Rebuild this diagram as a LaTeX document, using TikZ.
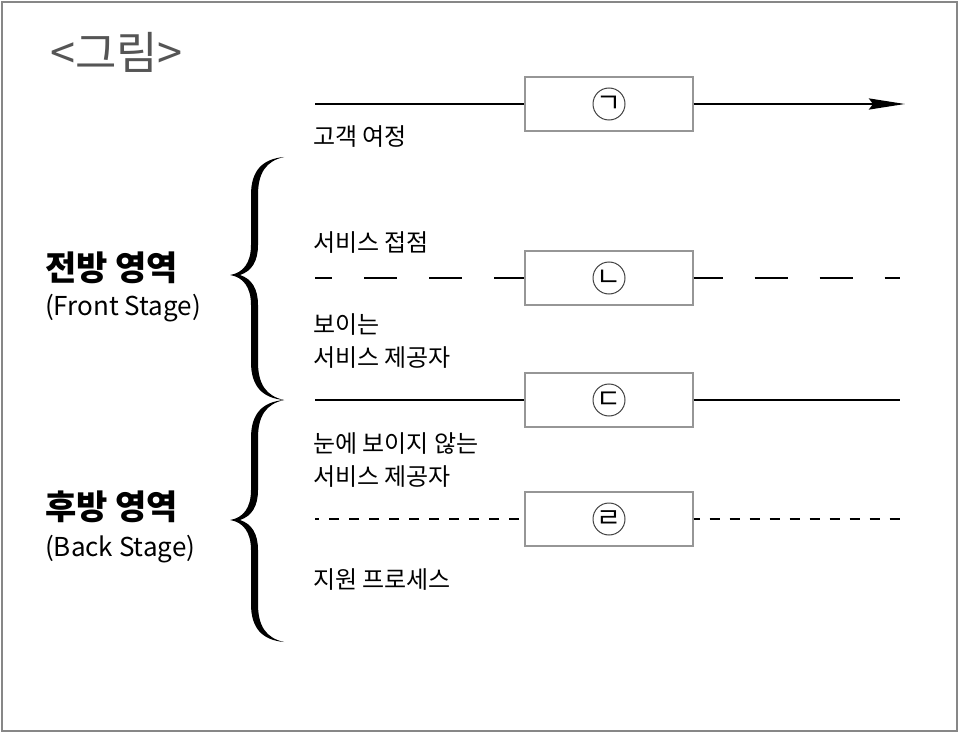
\documentclass[tikz,border=0pt]{standalone}
\usepackage{fontspec}
\setmainfont{Noto Sans CJK KR}
\usetikzlibrary{arrows.meta, positioning}
\definecolor{frameGray}{RGB}{135,135,135}
\definecolor{boxGray}{RGB}{150,150,150}
\definecolor{titleGray}{RGB}{85,85,85}

% curly brace, filled; args: top y, tip y, bottom y
\newcommand{\stagebrace}[3]{%
  \fill[black] (284,#1) .. controls (262,#1+2) and (251,#1+14) .. (251,#1+38)
    -- (251,#2-30) .. controls (251,#2-12) and (243,#2-2) .. (230,#2)
    .. controls (243,#2+2) and (251,#2+12) .. (251,#2+30)
    -- (251,#3-38) .. controls (251,#3-14) and (262,#3-2) .. (284,#3)
    .. controls (266,#3-4) and (258,#3-16) .. (258,#3-38)
    -- (258,#2+30) .. controls (258,#2+14) and (252,#2+4) .. (240,#2)
    .. controls (252,#2-4) and (258,#2-14) .. (258,#2-30)
    -- (258,#1+38) .. controls (258,#1+16) and (266,#1+4) .. (284,#1) -- cycle;}

\begin{document}
\begin{tikzpicture}[x=1pt, y=-1pt,
    stage/.style={line width=2.6pt, black},
    touchbox/.style={draw=boxGray, line width=1.3pt, minimum width=168pt, minimum height=54pt, inner sep=0pt},
    ring/.style={circle, draw=black!75, line width=1pt, minimum size=32pt, inner sep=0pt},
    jamo/.style={inner sep=0pt, font=\fontsize{27}{27}\selectfont},
    lbl/.style={anchor=west, inner sep=0pt, align=left, font=\fontsize{24}{33}\selectfont},
    area/.style={anchor=west, inner sep=0pt, font=\fontsize{34}{34}\selectfont\bfseries},
    areaen/.style={anchor=west, inner sep=0pt, font=\fontsize{26}{26}\selectfont}]
    \useasboundingbox (0,0) rectangle (959,733);
    \draw[frameGray, line width=2pt] (2,2) rectangle (957,731);

    \node[anchor=west, inner sep=0pt, titleGray, font=\fontsize{45}{45}\selectfont] (title) at (50,52) {<그림>};

    % boxes on the four lines
    \node[touchbox] (b1) at (609,104) {};
    \node[touchbox] (b2) at (609,278) {};
    \node[touchbox] (b3) at (609,400) {};
    \node[touchbox] (b4) at (609,519) {};
    \node[ring] (c1) at (b1.center) {};
    \node[ring] (c2) at (b2.center) {};
    \node[ring] (c3) at (b3.center) {};
    \node[ring] (c4) at (b4.center) {};
    \node[jamo] (t1) at (c1) {ㄱ};
    \node[jamo] (t2) at (c2) {ㄴ};
    \node[jamo] (t3) at (c3) {ㄷ};
    \node[jamo] (t4) at (c4) {ㄹ};

    \coordinate (s1) at (315,104); \coordinate (e1) at (905,104);
    \coordinate (s2) at (315,278); \coordinate (e2) at (900,278);
    \coordinate (s3) at (315,400); \coordinate (e3) at (900,400);
    \coordinate (s4) at (315,519); \coordinate (e4) at (900,519);

    % lines
    \draw[stage] (s1) -- (b1);
    \draw[stage, -{Stealth[length=36pt, width=11pt, inset=4pt]}] (b1) -- (e1);
    \draw[stage, dash pattern=on 33pt off 32pt, dash phase=16pt] (s2) -- (b2);
    \draw[stage, dash pattern=on 33pt off 32pt, dash phase=4pt] (b2) -- (e2);
    \draw[stage] (s3) -- (b3);
    \draw[stage] (b3) -- (e3);
    \draw[stage, dash pattern=on 10pt off 10pt, dash phase=6pt] (s4) -- (b4);
    \draw[stage, dash pattern=on 10pt off 10pt, dash phase=4pt] (b4) -- (e4);

    % labels
    \node[lbl] (journey) at (313,137) {고객 여정};
    \node[lbl] (touch) at (313,243) {서비스 접점};
    \node[lbl] (visible) at (313,341) {보이는\\서비스 제공자};
    \node[lbl] (invisible) at (313,460) {눈에 보이지 않는\\서비스 제공자};
    \node[lbl] (support) at (313,580) {지원 프로세스};

    % braces and stage names
    \stagebrace{157}{275}{400}
    \stagebrace{400}{520}{642}
    \node[area] (front) at (45,268) {전방 영역};
    \node[areaen] (fronten) at (45,308) {(Front Stage)};
    \node[area] (back) at (45,507) {후방 영역};
    \node[areaen] (backen) at (45,549) {(Back Stage)};
\end{tikzpicture}
\end{document}
